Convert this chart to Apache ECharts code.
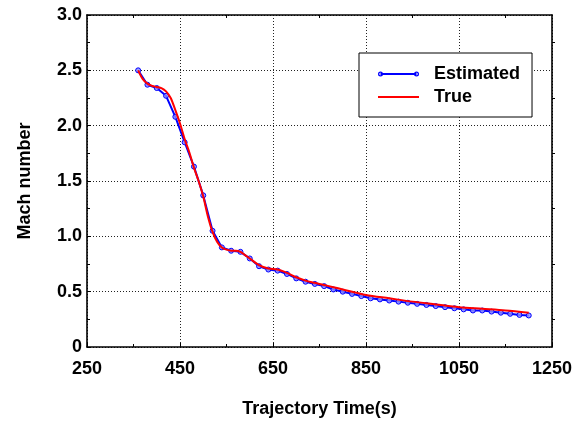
<!DOCTYPE html>
<html>
<head>
<meta charset="utf-8">
<title>Mach number vs trajectory time</title>
<script src="https://cdn.jsdelivr.net/npm/echarts@6/dist/echarts.min.js"></script>
<style>
  html, body { margin: 0; padding: 0; background: #fff; }
  #chart { width: 586px; height: 423px; }
</style>
</head>
<body>
<div id="chart"></div>
<script>
// Estimated Mach number, sampled every 20 s
const estTime = [360, 380, 400, 420, 440, 460, 480, 500, 520, 540, 560, 580, 600, 620, 640, 660, 680, 700,
  720, 740, 760, 780, 800, 820, 840, 860, 880, 900, 920, 940, 960, 980, 1000, 1020, 1040, 1060, 1080,
  1100, 1120, 1140, 1160, 1180, 1200];
const estMach = [2.50, 2.37, 2.34, 2.27, 2.08, 1.85, 1.63, 1.37, 1.05, 0.90, 0.87, 0.86, 0.80, 0.73, 0.70,
  0.69, 0.66, 0.62, 0.59, 0.57, 0.55, 0.52, 0.50, 0.48, 0.46, 0.44, 0.43, 0.42, 0.41, 0.40, 0.39, 0.38,
  0.37, 0.36, 0.35, 0.34, 0.33, 0.33, 0.32, 0.31, 0.30, 0.29, 0.285];

// True Mach number
const trueTime = [360, 370, 380, 390, 400, 410, 420, 430, 440, 450, 460, 470, 480, 490, 500, 510, 520, 530,
  540, 550, 560, 570, 580, 590, 600, 620, 640, 660, 680, 700, 720, 740, 760, 780, 800, 850, 900, 950,
  1000, 1050, 1100, 1150, 1200];
const trueMach = [2.50, 2.42, 2.38, 2.36, 2.35, 2.34, 2.31, 2.25, 2.14, 2.02, 1.88, 1.76, 1.62, 1.50, 1.36,
  1.18, 1.04, 0.95, 0.90, 0.88, 0.87, 0.87, 0.86, 0.83, 0.80, 0.74, 0.71, 0.70, 0.67, 0.63, 0.60, 0.58,
  0.56, 0.54, 0.52, 0.47, 0.44, 0.41, 0.385, 0.36, 0.345, 0.33, 0.31];

// Axis ticks
const xMajorTicks = [250, 450, 650, 850, 1050, 1250];
const xMinorTicks = [350, 550, 750, 950, 1150];
const yMin = 0, yMax = 3, yStep = 0.5;

const pair = (xs, ys) => xs.map((x, i) => [x, ys[i]]);

const FONT = 'Arial, "Liberation Sans", sans-serif';
const AXIS_LINE = { show: true, lineStyle: { color: '#000', width: 1.6 } };
const TICK_STYLE = { color: '#000', width: 1 };

// Legend icons: line with end circles, and a plain line
const ICON_EST = 'path://M2.5,0 A2.5,2.5 0 1,1 2.5,5 A2.5,2.5 0 1,1 2.5,0 Z ' +
  'M2.5,1.3 A1.2,1.2 0 1,0 2.5,3.7 A1.2,1.2 0 1,0 2.5,1.3 Z ' +
  'M38.5,0 A2.5,2.5 0 1,1 38.5,5 A2.5,2.5 0 1,1 38.5,0 Z ' +
  'M38.5,1.3 A1.2,1.2 0 1,0 38.5,3.7 A1.2,1.2 0 1,0 38.5,1.3 Z ' +
  'M2.5,1.5 L38.5,1.5 L38.5,3.5 L2.5,3.5 Z';
const ICON_TRUE = 'path://M0,0 L41,0 L41,2 L0,2 Z';

const chart = echarts.init(document.getElementById('chart'), null, { renderer: 'canvas' });

chart.setOption({
  animation: false,
  backgroundColor: '#fff',
  textStyle: { fontFamily: FONT },
  grid: { left: 87, right: 34, top: 15, bottom: 69, containLabel: false },
  legend: {
    left: 359,
    top: 53,
    orient: 'vertical',
    backgroundColor: '#fff',
    borderColor: '#000',
    borderWidth: 1,
    padding: [12, 12, 11, 19],
    itemGap: 5,
    itemWidth: 41,
    itemHeight: 14,
    textStyle: { fontFamily: FONT, fontSize: 18, fontWeight: 'bold', color: '#000', lineHeight: 18, padding: [0, 0, 0, 10] },
    data: [
      { name: 'Estimated', icon: ICON_EST, itemStyle: { color: '#0000ff', borderWidth: 0 } },
      { name: 'True', icon: ICON_TRUE, itemStyle: { color: '#ff0000', borderWidth: 0 } }
    ]
  },
  xAxis: [
    {
      type: 'value', min: 250, max: 1250, position: 'bottom',
      name: 'Trajectory Time(s)', nameLocation: 'middle', nameGap: 53,
      nameTextStyle: { fontFamily: FONT, fontSize: 18, fontWeight: 'bold', color: '#000' },
      axisLine: AXIS_LINE,
      axisTick: { show: true, inside: true, length: 4, lineStyle: TICK_STYLE, customValues: xMajorTicks },
      axisLabel: {
        customValues: xMajorTicks, fontFamily: FONT, fontSize: 18, fontWeight: 'bold', color: '#000', margin: 13,
        formatter: v => String(v)
      },
      splitLine: { show: true, lineStyle: { color: '#222', width: 1, type: [1, 2] } }
    },
    {
      type: 'value', min: 250, max: 1250, position: 'bottom',
      axisLine: { show: false },
      axisTick: { show: true, inside: true, length: 3, lineStyle: TICK_STYLE, customValues: xMinorTicks },
      axisLabel: { show: false },
      splitLine: { show: false }
    },
    {
      type: 'value', min: 250, max: 1250, position: 'top',
      axisLine: AXIS_LINE,
      axisTick: { show: true, inside: true, length: 3, lineStyle: TICK_STYLE, customValues: xMinorTicks },
      axisLabel: { show: false },
      splitLine: { show: false }
    }
  ],
  yAxis: [
    {
      type: 'value', min: yMin, max: yMax, interval: yStep, position: 'left',
      name: 'Mach number', nameLocation: 'middle', nameGap: 53,
      nameTextStyle: { fontFamily: FONT, fontSize: 18, fontWeight: 'bold', color: '#000' },
      axisLine: AXIS_LINE,
      axisTick: { show: true, inside: true, length: 4, lineStyle: TICK_STYLE },
      minorTick: { show: true, splitNumber: 2, length: 3, lineStyle: TICK_STYLE },
      axisLabel: {
        fontFamily: FONT, fontSize: 18, fontWeight: 'bold', color: '#000', margin: 5,
        formatter: v => (v === 0 ? '0' : v.toFixed(1))
      },
      splitLine: { show: true, lineStyle: { color: '#222', width: 1, type: [1, 2] } }
    },
    {
      type: 'value', min: yMin, max: yMax, interval: yStep, position: 'right',
      axisLine: AXIS_LINE,
      axisTick: { show: false },
      minorTick: { show: true, splitNumber: 2, length: 3, lineStyle: TICK_STYLE },
      axisLabel: { show: false },
      splitLine: { show: false }
    }
  ],
  series: [
    {
      name: 'Estimated',
      type: 'line',
      xAxisIndex: 0, yAxisIndex: 0,
      data: pair(estTime, estMach),
      symbol: 'circle',
      symbolSize: 5,
      showAllSymbol: true,
      lineStyle: { color: '#0000ff', width: 2 },
      itemStyle: { color: 'rgba(140,140,255,0.8)', borderColor: '#0000ff', borderWidth: 1 },
      z: 2
    },
    {
      name: 'True',
      type: 'line',
      xAxisIndex: 0, yAxisIndex: 0,
      data: pair(trueTime, trueMach),
      symbol: 'none',
      smooth: 0.3,
      lineStyle: { color: '#ff0000', width: 2 },
      itemStyle: { color: '#ff0000' },
      z: 3
    }
  ]
});
</script>
</body>
</html>
